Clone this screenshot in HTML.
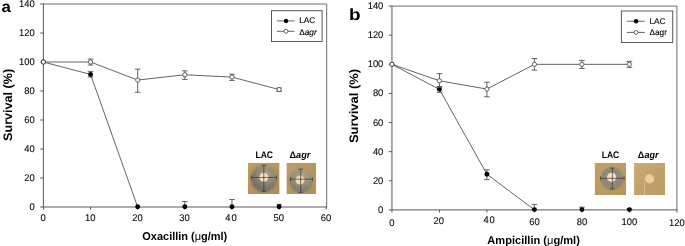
<!DOCTYPE html>
<html><head><meta charset="utf-8"><title>Survival</title>
<style>
html,body{margin:0;padding:0;background:#fff;}
body{width:685px;height:246px;overflow:hidden;font-family:"Liberation Sans",sans-serif;}
svg{display:block;will-change:transform;text-rendering:geometricPrecision;}
text{font-family:"Liberation Sans",sans-serif;fill:#0a0a0a;}
.tk{font-size:9.7px;stroke:#0a0a0a;stroke-width:0.1px;}
.tt{font-size:11.3px;font-weight:bold;fill:#000;}
.ty{font-size:12.3px;}
.tt tspan{font-weight:normal;}
.pl{font-size:15.6px;font-weight:bold;fill:#000;}
.lg{font-size:8.3px;fill:#000;stroke:#000;stroke-width:0.12px;}
.ph{font-size:9.5px;font-weight:bold;fill:#000;}
</style></head><body>
<svg width="685" height="246" viewBox="0 0 685 246">
<defs>
<filter id="bl" x="-20%" y="-20%" width="140%" height="140%"><feGaussianBlur stdDeviation="0.8"/></filter>
<filter id="bl2" x="-20%" y="-20%" width="140%" height="140%"><feGaussianBlur stdDeviation="0.45"/></filter>
<clipPath id="c1"><rect x="247.8" y="162.8" width="31.8" height="31.2"/></clipPath>
<clipPath id="c2"><rect x="286.4" y="162.8" width="29.8" height="31.2"/></clipPath>
<clipPath id="c3"><rect x="594.6" y="162.7" width="31.6" height="32.3"/></clipPath>
<clipPath id="c4"><rect x="634.1" y="162.9" width="31" height="32.2"/></clipPath>
<linearGradient id="bg1" x1="0" y1="0" x2="1" y2="1"><stop offset="0" stop-color="#bd9e64"/><stop offset="1" stop-color="#ad8e55"/></linearGradient>
<linearGradient id="bg2" x1="0" y1="0" x2="1" y2="1"><stop offset="0" stop-color="#bb9e68"/><stop offset="1" stop-color="#b09259"/></linearGradient>
<linearGradient id="bg3" x1="0" y1="0" x2="1" y2="1"><stop offset="0" stop-color="#c2a266"/><stop offset="1" stop-color="#b5955a"/></linearGradient>
<linearGradient id="bg4" x1="0" y1="0" x2="1" y2="1"><stop offset="0" stop-color="#caad76"/><stop offset="0.5" stop-color="#c0a269"/><stop offset="1" stop-color="#bb9d63"/></linearGradient>
<radialGradient id="h1" cx="0.6" cy="0.3" r="0.85"><stop offset="0" stop-color="#a89a7b"/><stop offset="0.35" stop-color="#948b76"/><stop offset="0.7" stop-color="#74716a"/><stop offset="1" stop-color="#63635d"/></radialGradient>
<radialGradient id="h2" cx="0.55" cy="0.25" r="0.9"><stop offset="0" stop-color="#b3a07c"/><stop offset="0.4" stop-color="#9c9079"/><stop offset="0.75" stop-color="#807b70"/><stop offset="1" stop-color="#737068"/></radialGradient>
<radialGradient id="h3" cx="0.5" cy="0.45" r="0.6"><stop offset="0" stop-color="#9a917f"/><stop offset="0.6" stop-color="#8d877b"/><stop offset="1" stop-color="#858075"/></radialGradient>
</defs>
<rect width="685" height="246" fill="#fff"/>

<path d="M43.4 62L90.54 74.4L137.68 207" fill="none" stroke="#484848" stroke-width="0.85"/>
<path d="M43.4 62L90.54 62L137.68 80.05L184.82 74.76L231.96 77.08L279.1 89.55" fill="none" stroke="#484848" stroke-width="0.85"/>
<path d="M43.4 4H326.7V207" fill="none" stroke="#6c6c6c" stroke-width="1"/>
<path d="M43.4 3.5V207H327.2" fill="none" stroke="#585858" stroke-width="1"/>
<line x1="40.2" y1="207" x2="43.4" y2="207" stroke="#585858" stroke-width="1"/>
<text transform="translate(34.8 210) scale(0.97 1)" text-anchor="end" class="tk">0</text>
<line x1="40.2" y1="178" x2="43.4" y2="178" stroke="#585858" stroke-width="1"/>
<text transform="translate(34.8 181) scale(0.97 1)" text-anchor="end" class="tk">20</text>
<line x1="40.2" y1="149" x2="43.4" y2="149" stroke="#585858" stroke-width="1"/>
<text transform="translate(34.8 152) scale(0.97 1)" text-anchor="end" class="tk">40</text>
<line x1="40.2" y1="120" x2="43.4" y2="120" stroke="#585858" stroke-width="1"/>
<text transform="translate(34.8 123) scale(0.97 1)" text-anchor="end" class="tk">60</text>
<line x1="40.2" y1="91" x2="43.4" y2="91" stroke="#585858" stroke-width="1"/>
<text transform="translate(34.8 94) scale(0.97 1)" text-anchor="end" class="tk">80</text>
<line x1="40.2" y1="62" x2="43.4" y2="62" stroke="#585858" stroke-width="1"/>
<text transform="translate(34.8 65) scale(0.97 1)" text-anchor="end" class="tk">100</text>
<line x1="40.2" y1="33" x2="43.4" y2="33" stroke="#585858" stroke-width="1"/>
<text transform="translate(34.8 36) scale(0.97 1)" text-anchor="end" class="tk">120</text>
<line x1="40.2" y1="4" x2="43.4" y2="4" stroke="#585858" stroke-width="1"/>
<text transform="translate(34.8 7) scale(0.97 1)" text-anchor="end" class="tk">140</text>
<line x1="43.4" y1="207" x2="43.4" y2="209.6" stroke="#585858" stroke-width="1"/>
<text transform="translate(43.1 220.6) scale(0.97 1)" text-anchor="middle" class="tk">0</text>
<line x1="90.54" y1="207" x2="90.54" y2="209.6" stroke="#585858" stroke-width="1"/>
<text transform="translate(90.24 220.6) scale(0.97 1)" text-anchor="middle" class="tk">10</text>
<line x1="137.68" y1="207" x2="137.68" y2="209.6" stroke="#585858" stroke-width="1"/>
<text transform="translate(137.38 220.6) scale(0.97 1)" text-anchor="middle" class="tk">20</text>
<line x1="184.82" y1="207" x2="184.82" y2="209.6" stroke="#585858" stroke-width="1"/>
<text transform="translate(184.52 220.6) scale(0.97 1)" text-anchor="middle" class="tk">30</text>
<line x1="231.96" y1="207" x2="231.96" y2="209.6" stroke="#585858" stroke-width="1"/>
<text transform="translate(231.46 220.6) scale(0.97 1)" text-anchor="middle" class="tk" style="letter-spacing:0.9px">40</text>
<line x1="279.1" y1="207" x2="279.1" y2="209.6" stroke="#585858" stroke-width="1"/>
<text transform="translate(278.8 220.6) scale(0.97 1)" text-anchor="middle" class="tk">50</text>
<line x1="326.24" y1="207" x2="326.24" y2="209.6" stroke="#585858" stroke-width="1"/>
<text transform="translate(325.94 220.6) scale(0.97 1)" text-anchor="middle" class="tk">60</text>
<path d="M90.54 71.35V77.01M87.74 71.35h5.6M87.74 77.01h5.6" fill="none" stroke="#484848" stroke-width="0.85"/>
<path d="M184.82 201.49V207M182.02 201.49h5.6" fill="none" stroke="#484848" stroke-width="0.85"/>
<path d="M231.96 199.46V207M229.16 199.46h5.6" fill="none" stroke="#484848" stroke-width="0.85"/>
<path d="M279.1 204.39V207M276.3 204.39h5.6" fill="none" stroke="#484848" stroke-width="0.85"/>
<circle cx="43.4" cy="62" r="2.45" fill="#000"/>
<circle cx="90.54" cy="74.4" r="2.45" fill="#000"/>
<circle cx="137.68" cy="206.7" r="2.45" fill="#000"/>
<circle cx="184.82" cy="206.7" r="2.45" fill="#000"/>
<circle cx="231.96" cy="206.7" r="2.45" fill="#000"/>
<circle cx="279.1" cy="206.7" r="2.45" fill="#000"/>
<path d="M90.54 59.1V65.04M87.74 59.1h5.6M87.74 65.04h5.6" fill="none" stroke="#484848" stroke-width="0.85"/>
<path d="M137.68 69.18V92.23M134.88 69.18h5.6M134.88 92.23h5.6" fill="none" stroke="#484848" stroke-width="0.85"/>
<path d="M184.82 70.84V79.4M182.02 70.84h5.6M182.02 79.4h5.6" fill="none" stroke="#484848" stroke-width="0.85"/>
<path d="M231.96 74.18V80.42M229.16 74.18h5.6M229.16 80.42h5.6" fill="none" stroke="#484848" stroke-width="0.85"/>
<path d="M279.1 87.96V91.29M276.3 87.96h5.6M276.3 91.29h5.6" fill="none" stroke="#484848" stroke-width="0.85"/>
<circle cx="43.4" cy="62" r="2.1" fill="#fff" stroke="#484848" stroke-width="0.85"/>
<circle cx="90.54" cy="62" r="2.1" fill="#fff" stroke="#484848" stroke-width="0.85"/>
<circle cx="137.68" cy="80.05" r="2.1" fill="#fff" stroke="#484848" stroke-width="0.85"/>
<circle cx="184.82" cy="74.76" r="2.1" fill="#fff" stroke="#484848" stroke-width="0.85"/>
<circle cx="231.96" cy="77.08" r="2.1" fill="#fff" stroke="#484848" stroke-width="0.85"/>
<circle cx="279.1" cy="89.55" r="2.1" fill="#fff" stroke="#484848" stroke-width="0.85"/>
<text transform="translate(1.5 12.4) scale(1.08 1)" text-anchor="start" class="pl">a</text>
<text x="184.8" y="239.7" text-anchor="middle" class="tt" textLength="85" lengthAdjust="spacingAndGlyphs">Oxacillin (<tspan>&#956;</tspan>g/ml)</text>
<text transform="translate(11.6,104.9) rotate(-90)" text-anchor="middle" class="tt ty" textLength="72" lengthAdjust="spacingAndGlyphs">Survival (%)</text>
<rect x="271.5" y="10.7" width="50.6" height="30.8" fill="#fff" stroke="#585858" stroke-width="1"/>
<line x1="276.9" y1="20.9" x2="294.5" y2="20.9" stroke="#484848" stroke-width="0.85"/>
<circle cx="286" cy="20.9" r="2.2" fill="#000"/>
<line x1="276.9" y1="31.3" x2="294.5" y2="31.3" stroke="#484848" stroke-width="0.85"/>
<circle cx="286" cy="31.3" r="2" fill="#fff" stroke="#484848" stroke-width="0.85"/>
<text x="299.2" y="23.4" class="lg">LAC</text>
<text x="299.2" y="34.5" class="lg">&#916;<tspan font-style="italic">agr</tspan></text>
<g clip-path="url(#c1)">
<rect x="247.8" y="162.8" width="31.8" height="31.2" fill="url(#bg1)"/>
<circle cx="264" cy="178.7" r="13.2" fill="url(#h1)" filter="url(#bl)"/>
<circle cx="263.8" cy="177.2" r="4.5" fill="#f1dcbc" filter="url(#bl2)"/>
<path d="M251.3 177.5H276.5M263.8 165.3V191.3M251.3 175.5v4M276.5 175.5v4M261.5 165.3h4.6M261.5 191.3h4.6" fill="none" stroke="#303030" stroke-width="0.65"/>
</g>
<g clip-path="url(#c2)">
<rect x="286.4" y="162.8" width="29.8" height="31.2" fill="url(#bg2)"/>
<circle cx="301" cy="180.8" r="11.8" fill="url(#h2)" filter="url(#bl)"/>
<circle cx="300" cy="180" r="4.5" fill="#f0d7b4" filter="url(#bl2)"/>
<path d="M290.5 179.2H312.6M300.7 169.1V192.4M290.5 177.2v4M312.6 177.2v4M298.4 169.1h4.6M298.4 192.4h4.6" fill="none" stroke="#303030" stroke-width="0.65"/>
</g>
<text transform="translate(264.2 158.3) scale(0.9 1)" text-anchor="middle" class="ph">LAC</text>
<text transform="translate(299.9 158.3) scale(0.96 1)" text-anchor="middle" class="ph">&#916;<tspan font-style="italic">agr</tspan></text>
<path d="M391.95 64.33L439.44 89.37L486.93 174.24L534.42 209.9" fill="none" stroke="#484848" stroke-width="0.85"/>
<path d="M391.95 64.33L439.44 80.78L486.93 89.08L534.42 64.33L581.92 64.33L629.41 64.33" fill="none" stroke="#484848" stroke-width="0.85"/>
<path d="M391.95 6.1H676.9V209.9" fill="none" stroke="#6c6c6c" stroke-width="1"/>
<path d="M391.95 5.6V209.9H677.4" fill="none" stroke="#585858" stroke-width="1"/>
<line x1="388.75" y1="209.9" x2="391.95" y2="209.9" stroke="#585858" stroke-width="1"/>
<text transform="translate(383.35 212.9) scale(0.97 1)" text-anchor="end" class="tk">0</text>
<line x1="388.75" y1="180.79" x2="391.95" y2="180.79" stroke="#585858" stroke-width="1"/>
<text transform="translate(383.35 183.79) scale(0.97 1)" text-anchor="end" class="tk">20</text>
<line x1="388.75" y1="151.67" x2="391.95" y2="151.67" stroke="#585858" stroke-width="1"/>
<text transform="translate(383.35 154.67) scale(0.97 1)" text-anchor="end" class="tk">40</text>
<line x1="388.75" y1="122.56" x2="391.95" y2="122.56" stroke="#585858" stroke-width="1"/>
<text transform="translate(383.35 125.56) scale(0.97 1)" text-anchor="end" class="tk">60</text>
<line x1="388.75" y1="93.44" x2="391.95" y2="93.44" stroke="#585858" stroke-width="1"/>
<text transform="translate(383.35 96.44) scale(0.97 1)" text-anchor="end" class="tk">80</text>
<line x1="388.75" y1="64.33" x2="391.95" y2="64.33" stroke="#585858" stroke-width="1"/>
<text transform="translate(383.35 67.33) scale(0.97 1)" text-anchor="end" class="tk">100</text>
<line x1="388.75" y1="35.21" x2="391.95" y2="35.21" stroke="#585858" stroke-width="1"/>
<text transform="translate(383.35 38.21) scale(0.97 1)" text-anchor="end" class="tk">120</text>
<line x1="388.75" y1="6.1" x2="391.95" y2="6.1" stroke="#585858" stroke-width="1"/>
<text transform="translate(383.35 9.1) scale(0.97 1)" text-anchor="end" class="tk">140</text>
<line x1="391.95" y1="209.9" x2="391.95" y2="212.5" stroke="#585858" stroke-width="1"/>
<text transform="translate(391.95 226) scale(0.97 1)" text-anchor="middle" class="tk">0</text>
<line x1="439.44" y1="209.9" x2="439.44" y2="212.5" stroke="#585858" stroke-width="1"/>
<text transform="translate(438.84 224.3) scale(0.97 1)" text-anchor="middle" class="tk">20</text>
<line x1="486.93" y1="209.9" x2="486.93" y2="212.5" stroke="#585858" stroke-width="1"/>
<text transform="translate(489.53 223.2) scale(0.97 1)" text-anchor="middle" class="tk" style="letter-spacing:0.9px">40</text>
<line x1="534.42" y1="209.9" x2="534.42" y2="212.5" stroke="#585858" stroke-width="1"/>
<text transform="translate(534.42 224.8) scale(0.97 1)" text-anchor="middle" class="tk">60</text>
<line x1="581.92" y1="209.9" x2="581.92" y2="212.5" stroke="#585858" stroke-width="1"/>
<text transform="translate(581.92 224.8) scale(0.97 1)" text-anchor="middle" class="tk">80</text>
<line x1="629.41" y1="209.9" x2="629.41" y2="212.5" stroke="#585858" stroke-width="1"/>
<text transform="translate(629.41 224.8) scale(0.97 1)" text-anchor="middle" class="tk">100</text>
<line x1="676.9" y1="209.9" x2="676.9" y2="212.5" stroke="#585858" stroke-width="1"/>
<text transform="translate(676.9 225.5) scale(0.97 1)" text-anchor="middle" class="tk">120</text>
<path d="M439.44 86.46V92.28M436.64 86.46h5.6M436.64 92.28h5.6" fill="none" stroke="#484848" stroke-width="0.85"/>
<path d="M486.93 169.87V179.62M484.13 169.87h5.6M484.13 179.62h5.6" fill="none" stroke="#484848" stroke-width="0.85"/>
<path d="M534.42 204.37V209.9M531.62 204.37h5.6" fill="none" stroke="#484848" stroke-width="0.85"/>
<path d="M581.92 207.13V209.9M579.12 207.13h5.6" fill="none" stroke="#484848" stroke-width="0.85"/>
<path d="M629.41 208.74V209.9M626.61 208.74h5.6" fill="none" stroke="#484848" stroke-width="0.85"/>
<circle cx="391.95" cy="64.33" r="2.45" fill="#000"/>
<circle cx="439.44" cy="89.37" r="2.45" fill="#000"/>
<circle cx="486.93" cy="174.24" r="2.45" fill="#000"/>
<circle cx="534.42" cy="209.6" r="2.45" fill="#000"/>
<circle cx="581.92" cy="209.6" r="2.45" fill="#000"/>
<circle cx="629.41" cy="209.6" r="2.45" fill="#000"/>
<path d="M439.44 73.65V87.33M436.64 73.65h5.6M436.64 87.33h5.6" fill="none" stroke="#484848" stroke-width="0.85"/>
<path d="M486.93 82.23V96.79M484.13 82.23h5.6M484.13 96.79h5.6" fill="none" stroke="#484848" stroke-width="0.85"/>
<path d="M534.42 58.51V70.15M531.62 58.51h5.6M531.62 70.15h5.6" fill="none" stroke="#484848" stroke-width="0.85"/>
<path d="M581.92 60.4V68.4M579.12 60.4h5.6M579.12 68.4h5.6" fill="none" stroke="#484848" stroke-width="0.85"/>
<path d="M629.41 61.42V67.39M626.61 61.42h5.6M626.61 67.39h5.6" fill="none" stroke="#484848" stroke-width="0.85"/>
<circle cx="391.95" cy="64.33" r="2.1" fill="#fff" stroke="#484848" stroke-width="0.85"/>
<circle cx="439.44" cy="80.78" r="2.1" fill="#fff" stroke="#484848" stroke-width="0.85"/>
<circle cx="486.93" cy="89.08" r="2.1" fill="#fff" stroke="#484848" stroke-width="0.85"/>
<circle cx="534.42" cy="64.33" r="2.1" fill="#fff" stroke="#484848" stroke-width="0.85"/>
<circle cx="581.92" cy="64.33" r="2.1" fill="#fff" stroke="#484848" stroke-width="0.85"/>
<circle cx="629.41" cy="64.33" r="2.1" fill="#fff" stroke="#484848" stroke-width="0.85"/>
<text transform="translate(349 20) scale(1.17 1)" text-anchor="start" class="pl" style="font-size:16.2px">b</text>
<text x="533.6" y="243.9" text-anchor="middle" class="tt" textLength="92.5" lengthAdjust="spacingAndGlyphs">Ampicillin (<tspan>&#956;</tspan>g/ml)</text>
<text transform="translate(357.8,106) rotate(-90)" text-anchor="middle" class="tt ty" textLength="74" lengthAdjust="spacingAndGlyphs">Survival (%)</text>
<rect x="621.4" y="11" width="51.3" height="31.5" fill="#fff" stroke="#585858" stroke-width="1"/>
<line x1="626.9" y1="21.2" x2="644.8" y2="21.2" stroke="#484848" stroke-width="0.85"/>
<circle cx="636.1" cy="21.2" r="2.2" fill="#000"/>
<line x1="626.9" y1="32.4" x2="644.8" y2="32.4" stroke="#484848" stroke-width="0.85"/>
<circle cx="636.1" cy="32.4" r="2" fill="#fff" stroke="#484848" stroke-width="0.85"/>
<text x="649.4" y="24.1" class="lg">LAC</text>
<text x="649.4" y="35.3" class="lg">&#916;agr</text>
<g clip-path="url(#c3)">
<rect x="594.6" y="162.7" width="31.6" height="32.3" fill="url(#bg3)"/>
<circle cx="612" cy="178.7" r="11.2" fill="url(#h3)" filter="url(#bl)"/>
<circle cx="611.6" cy="177.3" r="4.6" fill="#f3dfc0" filter="url(#bl2)"/>
<path d="M600.6 178.3H624.1M612.3 168.1V188.9M600.6 176.3v4M624.1 176.3v4M610 168.1h4.6M610 188.9h4.6" fill="none" stroke="#303030" stroke-width="0.65"/>
</g>
<g clip-path="url(#c4)">
<rect x="634.1" y="162.9" width="31" height="32.2" fill="url(#bg4)"/>
<path d="M644.1 181 L644.6 195.2" stroke="#e0cda0" stroke-width="1.3" fill="none" opacity="0.7" filter="url(#bl2)"/>
<circle cx="649.5" cy="178.8" r="4.6" fill="#efcc9c" filter="url(#bl2)"/>
</g>
<text transform="translate(610.5 158.3) scale(0.9 1)" text-anchor="middle" class="ph">LAC</text>
<text transform="translate(648.2 158.3) scale(0.96 1)" text-anchor="middle" class="ph">&#916;<tspan font-style="italic">agr</tspan></text>
</svg>
</body></html>
